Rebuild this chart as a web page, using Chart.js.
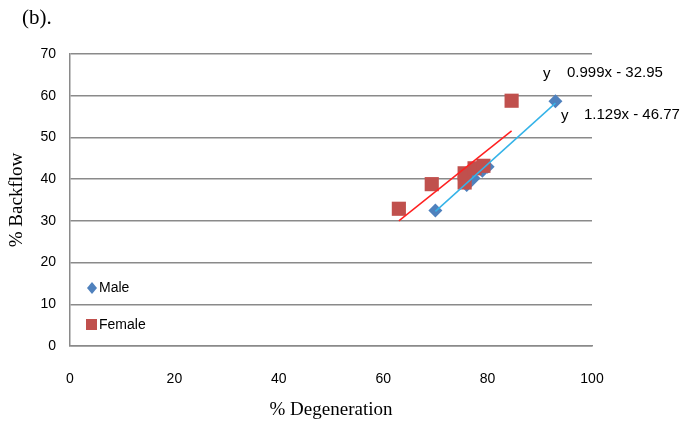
<!DOCTYPE html>
<html>
<head>
<meta charset="utf-8">
<script src="https://cdn.jsdelivr.net/npm/chart.js@4"></script>
<style>
  html, body { margin: 0; padding: 0; background: #fff; }
  #wrap { width: 683px; height: 425px; }
</style>
</head>
<body>
<div id="wrap"><canvas id="chart" width="683" height="425"></canvas></div>
<script>
'use strict';

// ── DATA ──────────────────────────────────────────────────────
const maleX   = [70, 76, 77.3, 79, 80, 93];
const maleY   = [32.5, 38.6, 40.2, 42, 43, 58.7];
const femaleX = [63, 69.3, 75.6, 75.6, 77.5, 79.2, 84.6];
const femaleY = [32.9, 38.8, 39.2, 41.4, 42.6, 43.2, 58.8];

// trendline coefficients as printed on the chart
const maleFit   = { slope: 1.129, icept: -46.77, label: '1.129x - 46.77' };
const femaleFit = { slope: 0.999, icept: -32.95, label: '0.999x - 32.95' };

const xTicks = [0, 20, 40, 60, 80, 100];
const yTicks = [0, 10, 20, 30, 40, 50, 60, 70];

const MALE_COLOR   = '#4f81bd';
const FEMALE_COLOR = '#c0504d';
const GRID_COLOR   = '#8a8a8a';
const NARROW = "'Liberation Sans Narrow', 'Liberation Sans', sans-serif";
const SERIF  = "'Liberation Serif', 'DejaVu Serif', serif";

// ── HELPERS ───────────────────────────────────────────────────
const toPoints = (xs, ys) => xs.map((x, i) => ({ x, y: ys[i] }));

function fitLine(fit, xs) {
  const lo = Math.min(...xs), hi = Math.max(...xs);
  return [lo, hi].map(x => ({ x, y: fit.slope * x + fit.icept }));
}

// text overlays: panel tag, equations, in-plot legend
const overlay = {
  id: 'overlay',
  afterDraw(chart) {
    const { ctx } = chart;
    ctx.save();
    ctx.fillStyle = '#000';
    ctx.textBaseline = 'middle';

    ctx.font = '21px ' + SERIF;
    ctx.fillText('(b).', 22, 18);

    ctx.font = '15px ' + NARROW;
    ctx.fillText('y', 543, 74);
    ctx.fillText(femaleFit.label, 567, 73);
    ctx.fillText('y', 561, 116);
    ctx.fillText(maleFit.label, 584, 115);

    // legend
    ctx.fillStyle = MALE_COLOR;
    ctx.beginPath();
    ctx.moveTo(92, 282); ctx.lineTo(97, 288); ctx.lineTo(92, 294); ctx.lineTo(87, 288);
    ctx.closePath(); ctx.fill();
    ctx.fillStyle = FEMALE_COLOR;
    ctx.fillRect(86, 319, 11, 11);

    ctx.fillStyle = '#000';
    ctx.font = '14px ' + NARROW;
    ctx.fillText('Male', 99, 288);
    ctx.fillText('Female', 99, 325);
    ctx.restore();
  },
};

// ── CHART ─────────────────────────────────────────────────────
new Chart(document.getElementById('chart'), {
  type: 'scatter',
  data: {
    datasets: [
      {
        label: 'Male trend',
        type: 'line',
        data: fitLine(maleFit, maleX),
        borderColor: '#35b3e8',
        borderWidth: 1.5,
        pointRadius: 0,
        fill: false,
        order: 1,
      },
      {
        label: 'Female trend',
        type: 'line',
        data: fitLine(femaleFit, femaleX),
        borderColor: '#ff2020',
        borderWidth: 1.5,
        pointRadius: 0,
        fill: false,
        order: 2,
      },
      {
        label: 'Female',
        data: toPoints(femaleX, femaleY),
        pointStyle: 'rect',
        pointRadius: 10,
        backgroundColor: FEMALE_COLOR,
        borderColor: FEMALE_COLOR,
        borderWidth: 0,
        order: 3,
      },
      {
        label: 'Male',
        data: toPoints(maleX, maleY),
        pointStyle: 'rectRot',
        pointRadius: 7,
        backgroundColor: MALE_COLOR,
        borderColor: MALE_COLOR,
        borderWidth: 0,
        order: 4,
      },
    ],
  },
  options: {
    responsive: false,
    animation: false,
    layout: { padding: { top: 54, right: 91, left: 0, bottom: 0 } },
    plugins: {
      legend: { display: false },
      tooltip: { enabled: false },
    },
    scales: {
      x: {
        type: 'linear',
        min: 0, max: 100,
        afterBuildTicks: s => { s.ticks = xTicks.map(v => ({ value: v })); },
        afterFit: s => { s.height = 79; },
        grid: { display: false, drawTicks: false },
        border: { display: true, color: GRID_COLOR, width: 1.5 },
        ticks: { padding: 25, color: '#000', font: { family: NARROW, size: 14 } },
        title: {
          display: true,
          text: '% Degeneration',
          color: '#000',
          font: { family: SERIF, size: 19 },
          padding: { top: 0, bottom: 4 },
        },
      },
      y: {
        min: 0, max: 70,
        afterBuildTicks: s => { s.ticks = yTicks.map(v => ({ value: v })); },
        afterFit: s => { s.width = 70; },
        grid: { color: GRID_COLOR, lineWidth: 1.5, drawTicks: false },
        border: { display: true, color: GRID_COLOR, width: 1.5 },
        ticks: { padding: 14, color: '#000', font: { family: NARROW, size: 14 } },
        title: {
          display: true,
          text: '% Backflow',
          color: '#000',
          font: { family: SERIF, size: 19 },
          padding: { top: 6, bottom: 0 },
        },
      },
    },
  },
  plugins: [overlay],
});
</script>
</body>
</html>
